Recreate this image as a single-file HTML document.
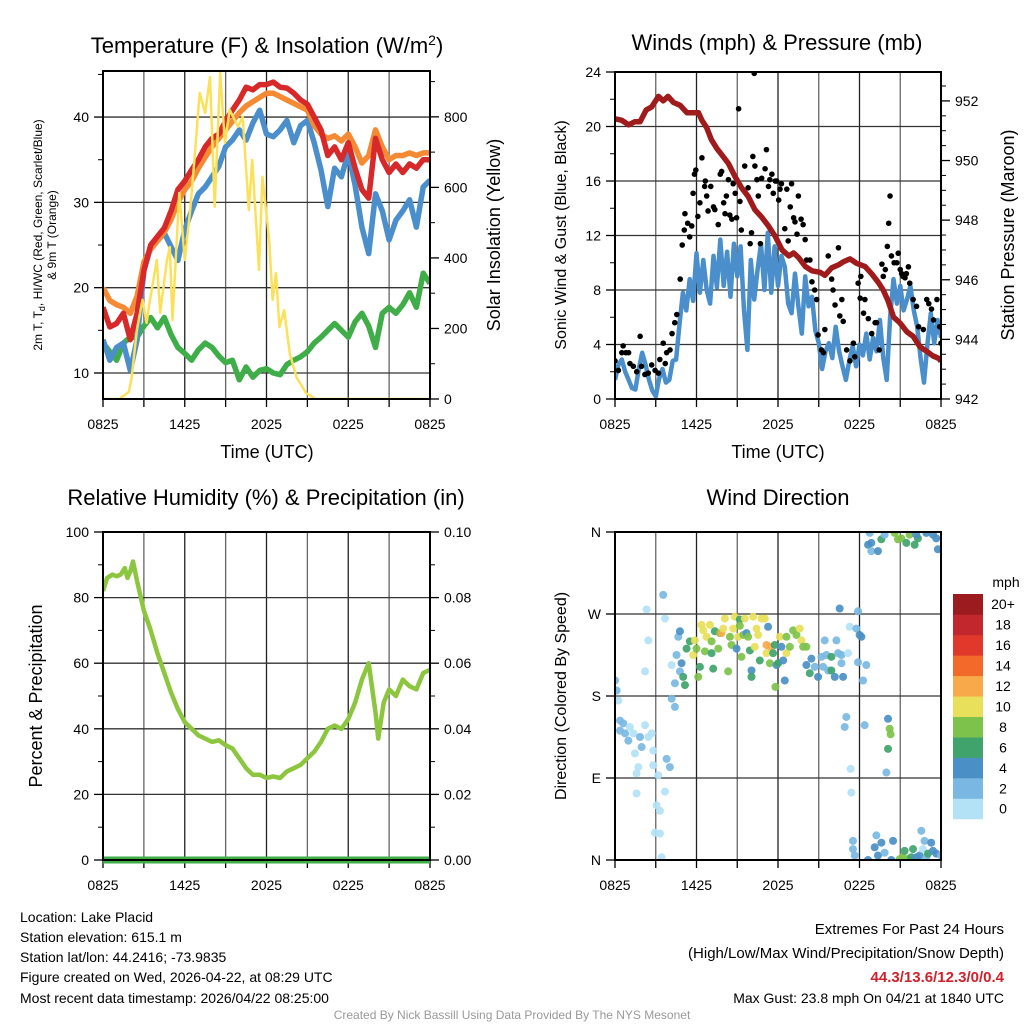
<!DOCTYPE html>
<html><head><meta charset="utf-8"><title>Mesonet Meteogram</title>
<style>
html,body{margin:0;padding:0;background:#fff;}
svg{display:block;font-family:"Liberation Sans",Arial,sans-serif;}
</style></head>
<body>
<svg id="chart" width="1024" height="1024" viewBox="0 0 1024 1024" xmlns="http://www.w3.org/2000/svg">
<rect x="0" y="0" width="1024" height="1024" fill="#fff"/>
<text x="267" y="53" font-size="22" text-anchor="middle">Temperature (F) &amp; Insolation (W/m<tspan dy="-8" font-size="14">2</tspan><tspan dy="8">)</tspan></text>
<text x="777" y="50" font-size="22" text-anchor="middle">Winds (mph) &amp; Pressure (mb)</text>
<text x="266" y="505" font-size="22" text-anchor="middle">Relative Humidity (%) &amp; Precipitation (in)</text>
<text x="778" y="505" font-size="22" text-anchor="middle">Wind Direction</text>
<text transform="translate(42,235) rotate(-90)" font-size="12" text-anchor="middle">2m T, T<tspan font-size="9" dy="3">d</tspan><tspan dy="-3">, HI/WC (Red, Green, Scarlet/Blue)</tspan></text>
<text transform="translate(56,235) rotate(-90)" font-size="12" text-anchor="middle">&amp; 9m T (Orange)</text>
<text transform="translate(500,235) rotate(-90)" font-size="18" text-anchor="middle">Solar Insolation (Yellow)</text>
<text x="267" y="458" font-size="18" text-anchor="middle">Time (UTC)</text>
<text transform="translate(566,235) rotate(-90)" font-size="16" text-anchor="middle">Sonic Wind &amp; Gust (Blue, Black)</text>
<text transform="translate(1014,235) rotate(-90)" font-size="18" text-anchor="middle">Station Pressure (Maroon)</text>
<text x="778" y="458" font-size="18" text-anchor="middle">Time (UTC)</text>
<text transform="translate(42,696) rotate(-90)" font-size="18" text-anchor="middle">Percent &amp; Precipitation</text>
<text transform="translate(566,696) rotate(-90)" font-size="16" text-anchor="middle">Direction (Colored By Speed)</text>
<g font-size="14">
<text x="20" y="922">Location: Lake Placid</text>
<text x="20" y="942">Station elevation: 615.1 m</text>
<text x="20" y="962">Station lat/lon: 44.2416; -73.9835</text>
<text x="20" y="982">Figure created on Wed, 2026-04-22, at 08:29 UTC</text>
<text x="20" y="1003">Most recent data timestamp: 2026/04/22 08:25:00</text>
</g>
<g font-size="15" text-anchor="end">
<text x="1004" y="934">Extremes For Past 24 Hours</text>
<text x="1004" y="958">(High/Low/Max Wind/Precipitation/Snow Depth)</text>
<text x="1004" y="982" font-weight="bold" fill="#d0202a">44.3/13.6/12.3/0/0.4</text>
<text x="1004" y="1003" font-size="14">Max Gust: 23.8 mph On 04/21 at 1840 UTC</text>
</g>
<text x="512" y="1019" font-size="12" fill="#999" text-anchor="middle">Created By Nick Bassill Using Data Provided By The NYS Mesonet</text>
</svg>
<script>
// ---------- DATA ----------
const timeLabels = ["0825","1425","2025","0225","0825"];
const halfHours = [0,0.5,1,1.5,2,2.5,3,3.5,4,4.5,5,5.5,6,6.5,7,7.5,8,8.5,9,9.5,10,10.5,11,11.5,12,12.5,13,13.5,14,14.5,15,15.5,16,16.5,17,17.5,18,18.5,19,19.5,20,20.5,21,21.5,22,22.5,23,23.5,24];
const tempRed = [17.7,15.4,15.8,17,13.9,17,22,25,26,27,29,31.5,32.5,33.8,35,36.5,37.5,38,39.5,40.8,42,43.5,43.2,43.8,43.8,44.1,43.5,43.4,42.8,42,41.5,40,38.5,35.5,36.5,35,37,34,31.5,30.5,37.5,35,33.5,34.5,33.5,34.5,34,35,35];
const temp9m = [20,18.5,18,17.7,17,19,23,24.5,25.5,26.5,28,30,31.5,32.5,34,35.3,36.5,37.5,38.5,39.5,40.5,41.3,41.8,42.3,42.8,42.8,42.4,42,41.6,41.2,40.8,39,38,37.5,37.8,37.2,38,36.5,34.6,35.5,38.5,36.5,35,35.5,35.5,35.8,35.5,35.8,35.8];
const windChill = [13.9,11.5,13,13.5,10.3,13.9,22,24.8,25.5,26.4,24.8,23.2,26.8,29,31,31.8,33,34.2,36.5,37.3,38.5,37.3,39.3,40.8,38,37.7,38.5,39.6,37,39,39.6,37,33.8,29.5,34,33,35.8,32,27.1,24,31,29,25.6,27.9,29,30.3,27.1,31.8,32.6];
const dewPoint = [13.5,12.5,11.5,13.5,14.2,14.2,15.5,16.5,15.3,16.5,14.5,13,12.3,11.5,12.7,13.5,13,12,11.2,11.5,9.2,10.7,9.5,10.3,10.5,10,9.8,11,11.5,11.9,12.5,13.5,14.2,15,15.8,15,14.2,16,17,15.5,13,17,17.7,17,18,19.4,17.7,21.7,20.5];
const solarHours = [0,1.2,1.9,2.1,2.5,2.9,3.2,3.45,3.95,4.2,4.7,4.9,5.1,5.6,6.0,6.4,6.75,7.1,7.5,7.85,8.2,8.6,8.95,9.3,9.55,9.9,10.25,10.7,10.95,11.45,11.7,12.2,12.45,12.7,12.95,13.3,13.7,14.2,14.9,15.6,24];
const solarValues = [0,0,20,60,200,281,216,281,394,244,394,431,224,584,394,536,698,868,811,913,545,925,726,820,800,772,800,536,678,366,630,451,281,357,204,252,130,62,17,0,0];

const windHours = [0,0.25,0.5,0.75,1,1.25,1.5,1.75,2,2.25,2.5,2.75,3,3.25,3.5,3.75,4,4.25,4.5,4.75,5,5.25,5.5,5.75,6,6.25,6.5,6.75,7,7.25,7.5,7.75,8,8.25,8.5,8.75,9,9.25,9.5,9.75,10,10.25,10.5,10.75,11,11.25,11.5,11.75,12,12.25,12.5,12.75,13,13.25,13.5,13.75,14,14.25,14.5,14.75,15,15.25,15.5,15.75,16,16.25,16.5,16.75,17,17.25,17.5,17.75,18,18.25,18.5,18.75,19,19.25,19.5,19.75,20,20.25,20.5,20.75,21,21.25,21.5,21.75,22,22.25,22.5,22.75,23,23.25,23.5,23.75,24];
const windSpeed = [1.4,2.5,2.9,2.0,1.4,0.8,0.7,2.2,3.4,2.5,1.4,0.6,0.2,1.5,2.2,1.2,1.4,2.8,2.9,5.5,7.8,6.5,8.8,7.2,10.7,7.8,10.2,8.0,7,10.5,8.2,11.7,8.3,10.8,7.5,11.4,9,11.2,6.5,3.6,10.2,7.3,9.5,11.4,8,12.2,7.8,11.2,8.3,10.5,9.7,7,6.3,9.2,6.8,4.8,9,6.8,7.5,5,4.1,2.2,3.5,4.1,3,5.3,3.5,2.4,1.4,2.8,3.9,2.4,4,3.2,4.8,2.9,4.5,3.5,5.8,3,1.4,6,8.8,7,8.3,6.5,7.3,8.3,6.5,5.3,3,1.2,4,6.3,4.1,5.8,4.5];
const gustHours = [0,0.25,0.5,0.6,0.8,1,1.1,1.35,1.6,1.85,1.95,2.2,2.45,2.7,2.95,3.2,3.3,3.55,3.7,3.8,4.05,4.2,4.4,4.55,4.8,4.95,5.1,5.15,5.35,5.5,5.65,5.75,5.85,5.95,6.1,6.25,6.4,6.6,6.65,6.75,6.85,7.05,7.25,7.35,7.6,7.75,7.85,8,8.1,8.2,8.35,8.45,8.6,8.7,8.85,8.95,9.1,9.2,9.3,9.55,9.8,9.95,10.05,10.15,10.25,10.3,10.45,10.55,10.7,10.8,11.05,11.15,11.3,11.4,11.55,11.65,11.8,11.9,12.05,12.15,12.25,12.5,12.65,12.75,12.9,13,13.15,13.25,13.4,13.5,13.7,13.85,14,14.1,14.35,14.5,14.7,14.85,14.95,15.2,15.35,15.45,15.7,15.95,16.05,16.2,16.45,16.55,16.7,16.8,17.05,17.3,17.55,17.65,17.9,18.05,18.1,18.3,18.4,18.65,18.9,19.15,19.25,19.45,19.65,19.75,19.9,20.05,20.15,20.25,20.35,20.55,20.75,20.85,21,21.1,21.2,21.35,21.45,21.6,21.7,21.95,22.2,22.35,22.7,22.95,23.1,23.3,23.45,23.7,23.9,24];
const gustSpeed = [2.8,2.1,3.4,3.9,3.4,3.4,2.6,2.4,2.0,4.6,2.4,1.8,1.9,2.5,2.1,1.9,2.9,4.1,2.6,3.4,3.6,4.8,5.6,6.2,8.8,11.3,12.4,13.6,12.9,11.9,12.7,15.1,16.5,16.8,13.4,14.4,17.7,15.6,16,14.9,13.8,15.6,14.1,13.9,12.8,16.5,16.7,14.4,13.6,14.9,16.1,13.5,13.2,15.8,15.1,13.3,21.3,14.5,12.4,17.1,15.5,11.4,12.2,17.8,23.9,17.1,16.1,14.9,11.4,16.2,16.9,18.3,15.6,16.1,16.5,15.1,16,16,14.6,15.4,15.8,12.5,15.4,11.6,14.1,15.8,13.3,13,12.1,14.9,13.2,12.8,11.7,10.2,10.2,8.6,8,7.3,4.7,3.6,3.4,5.1,10.5,8.8,8,6.9,11.1,6.1,7.3,5.7,3.6,2.8,4.1,3.1,8.5,7.4,9,6.3,7.3,5.9,4.8,5.6,5.6,3.6,9.9,9,9.5,11.2,12.9,14.9,10.5,10,10,10.7,9.5,9.2,9,8.9,9.2,9.7,8.5,7.3,6.8,5.3,5.1,7.3,7,6.6,5.8,7.3,5.3,4.1];
const pressHours = [0,0.5,1,1.45,1.85,2.3,2.7,3.2,3.55,3.9,4.3,4.8,5.3,5.8,6.15,6.4,6.75,7.1,7.5,7.85,8.35,8.85,9.3,9.8,10.3,10.8,11.3,11.8,12.3,12.8,13.15,13.5,14,14.5,15.1,15.45,15.95,16.45,16.8,17.3,17.8,18.4,18.9,19.4,19.75,20.1,20.5,20.985,21.5,21.95,22.45,22.95,23.4,23.9,24];
const pressValues = [951.4,951.35,951.2,951.3,951.3,951.7,951.8,952.15,952,952.15,951.95,951.85,951.6,951.6,951.6,951.35,951.1,950.7,950.4,950.2,949.9,949.45,949.1,948.8,948.35,948.1,947.8,947.45,947,946.8,946.9,946.75,946.45,946.3,946.25,946.15,946.4,946.5,946.6,946.7,946.55,946.45,946.2,945.9,945.65,945.3,944.75,944.55,944.25,944.1,943.75,943.6,943.45,943.35,943.25];

const rhHours = [0,0.3,0.7,1,1.3,1.6,1.8,2.0,2.2,2.5,3,3.5,4,4.5,5,5.5,6,6.5,7,7.5,8,8.5,9,9.5,10,10.5,11,11.5,12,12.5,13,13.5,14,14.5,15,15.5,16,16.5,17,17.5,18,18.5,19,19.5,20,20.2,20.6,21,21.5,22,22.5,23,23.5,24];
const rhValues = [82,86,87,86.5,87,89,86,88,91,85,76,70,63,57,51,46,42,40,38,37,36,36.5,35,34,31,28,26,26,25,25.5,25,27,28,29,31,33,36,40,41,40,43,48,55,60,45,37,48,52,50,55,53,52,57,58];
const precipValues = [0,0,0,0,0,0,0,0,0,0,0,0,0,0,0,0,0,0,0,0,0,0,0,0,0];

const dirHours = [0,0.12,0.25,0.37,0.61,0.37,0.74,0.98,1.1,1.35,1.47,1.72,1.59,1.84,1.96,2.21,2.45,2.7,2.82,2.21,2.45,2.33,3.55,3.68,1.59,2.82,3.19,3.8,4.04,3.68,3.06,3.31,2.94,3.31,3.43,4.17,4.41,4.53,4.41,4.17,4.66,4.78,4.9,4.78,5.02,5.15,5.27,5.51,5.76,5.88,6.0,6.13,6.25,6.37,6.5,6.74,6.62,6.99,7.11,7.23,7.11,7.35,7.6,7.72,7.84,7.97,8.09,8.33,8.46,8.58,8.7,8.82,8.95,9.07,9.19,9.19,9.31,9.44,9.56,9.68,9.8,9.93,10.05,10.05,10.17,10.29,10.42,10.54,10.66,10.78,11.03,11.15,11.27,11.4,11.15,11.4,11.64,11.76,11.89,12.01,12.13,12.25,12.38,12.5,11.81,12.62,12.62,12.87,13.11,13.36,13.6,13.73,13.85,14.09,14.09,14.34,14.46,14.71,14.95,15.2,15.32,15.44,15.56,15.69,15.93,15.93,16.18,16.3,16.42,16.54,16.67,16.79,16.67,17.16,17.28,17.77,17.89,18.01,18.14,17.89,18.26,18.5,17.03,16.91,17.35,17.4,18.38,20.1,20.22,20.29,20.1,19.98,18.75,18.63,18.87,18.87,19.36,19.61,19.85,20.59,20.83,21.08,21.45,21.69,22.06,22.3,22.18,22.92,23.41,23.65,23.77,17.52,17.52,17.65,18.63,19.12,19.24,19.36,19.61,19.85,20.34,20.47,20.96,21.2,21.32,21.57,21.81,21.94,22.18,22.43,22.55,22.67,22.79,22.92,23.04,23.28,23.41,23.65,24];
const dirDegrees = [197,186,175,153,150,142,139,131,146,139,117,102,95,135,124,148,135,139,120,207,241,275,291,265,73,104,93,111,102,75,60,54,30,29,3,177,168,225,194,214,245,251,216,207,201,192,232,240,225,241,232,201,212,258,252,245,229,258,240,210,227,251,232,249,249,254,265,207,245,236,254,267,232,245,264,257,223,247,265,249,245,230,208,201,267,234,254,247,219,265,265,236,256,234,227,216,227,236,214,216,245,234,219,197,190,227,245,234,252,247,254,241,234,234,214,205,221,212,201,223,212,241,225,208,223,208,201,241,227,276,216,201,225,227,256,254,273,247,245,217,197,214,157,146,100,74,148,155,144,138,122,96,359,346,348,339,339,352,357,359,352,353,348,357,346,353,357,359,357,353,341,21,12,5,0,14,27,5,19,8,0,21,1,3,10,1,3,12,3,5,32,12,21,3,7,19,10,7,5];
const dirSpeeds = [3,3,1,3,3,3,3,3,1,1,1,1,1,3,3,1,1,1,1,1,1,1,3,1,1,1,1,3,3,1,1,1,1,1,1,3,3,3,3,1,3,5,5,3,7,7,7,7,11,11,9,9,7,11,11,11,9,11,9,7,7,7,9,9,13,11,11,9,9,9,11,11,5,11,7,9,9,9,11,5,9,7,5,7,11,11,11,11,7,11,11,13,5,13,11,9,7,7,5,7,11,5,5,5,9,11,9,9,9,9,11,11,9,9,5,7,5,3,5,3,3,3,3,3,7,7,5,3,3,5,3,5,3,1,1,3,3,5,5,3,3,3,3,3,1,1,3,5,9,9,7,3,3,5,5,3,5,7,3,9,9,9,7,9,7,7,5,5,5,5,5,3,3,3,5,5,3,5,5,3,5,5,9,9,7,9,7,7,5,5,3,1,3,3,7,5,5,5,3];
const speedBins = ["0","2","4","6","8","10","12","14","16","18","20+"];
const speedColors = ["#b3e2f7","#7ab8e3","#4a90c6","#3fa36b","#7dc24a","#e8e05a","#f8aa4b","#f26a2a","#e0392b","#c1272d","#9b1b1e"];

// ---------- DRAW ----------
const NS = "http://www.w3.org/2000/svg";
const svg = document.getElementById("chart");
function mk(tag, attrs, parent) {
  const e = document.createElementNS(NS, tag);
  for (const k in attrs) e.setAttribute(k, attrs[k]);
  (parent || svg).appendChild(e);
  return e;
}
const P1 = {x0:103, x1:430, y0:71, y1:399};
const P2 = {x0:615, x1:941, y0:72, y1:399};
const P3 = {x0:103, x1:430, y0:532, y1:860};
const P4 = {x0:615, x1:941, y0:532, y1:860};
function xS(P, t) { return P.x0 + t / 24 * (P.x1 - P.x0); }
function yS(P, v, lo, hi) { return P.y1 - (v - lo) / (hi - lo) * (P.y1 - P.y0); }
const T_LO = 6.95, T_HI = 45.4, S_LO = 0, S_HI = 930;
const W_LO = 0, W_HI = 24, PR_LO = 942, PR_HI = 952.97;

function frame(P, name, hLines, lo, hi) {
  const g = mk("g", {});
  
  
  for (let h = 3; h < 24; h += 3) {
    const x = xS(P, h);
    const l = mk("line", {x1:x, x2:x, y1:P.y0, y2:P.y1, stroke: (h % 6 === 0) ? "#222" : "#666", "stroke-width":1.3}, g);
    
    
  }
  hLines.forEach(v => {
    const y = yS(P, v, lo, hi);
    const l = mk("line", {x1:P.x0, x2:P.x1, y1:y, y2:y, stroke:"#333", "stroke-width":1.3}, g);
    
    
  });
  for (let h = 0; h <= 24; h += 3) {
    const x = xS(P, h);
    const t = mk("line", {x1:x, x2:x, y1:P.y1, y2:P.y1 + 8, stroke:"#000", "stroke-width":1.3}, g);
    
    
  }
  timeLabels.forEach((lab, i) => {
    const tx = mk("text", {x:xS(P, i * 6), y:P.y1 + 30, "font-size":14, "text-anchor":"middle"}, g);
    tx.textContent = lab;
    
    
  });
}
function border(P, name) {
  const r = mk("rect", {x:P.x0, y:P.y0, width:P.x1 - P.x0, height:P.y1 - P.y0, fill:"none", stroke:"#000", "stroke-width":2});
  
  
}
function yAxis(P, name, side, majors, labels, minors, lo, hi) {
  const g = mk("g", {});
  
  
  const x = side === "left" ? P.x0 : P.x1;
  const d = side === "left" ? -1 : 1;
  majors.forEach((v, i) => {
    const y = yS(P, v, lo, hi);
    const t = mk("line", {x1:x, x2:x + d * 9, y1:y, y2:y, stroke:"#000", "stroke-width":1.3}, g);
    
    
    const tx = mk("text", {x:x + d * 14, y:y + 5, "font-size":14, "text-anchor": side === "left" ? "end" : "start"}, g);
    tx.textContent = labels[i];
    
    
  });
  minors.forEach(v => {
    const y = yS(P, v, lo, hi);
    const t = mk("line", {x1:x, x2:x + d * 5, y1:y, y2:y, stroke:"#000", "stroke-width":1}, g);
    
    
  });
}
function linePath(P, hours, vals, lo, hi) {
  return hours.map((h, i) => (i ? "L" : "M") + xS(P, h).toFixed(1) + "," + yS(P, vals[i], lo, hi).toFixed(1)).join("");
}
function clip(P, id) {
  const cp = mk("clipPath", {id:id});
  mk("rect", {x:P.x0, y:P.y0, width:P.x1 - P.x0, height:P.y1 - P.y0}, cp);
}
clip(P1, "c1"); clip(P2, "c2"); clip(P3, "c3"); clip(P4, "c4");

// Panel 1
frame(P1, "temp", [10,20,30,40], T_LO, T_HI);
const tempSeries = [[dewPoint,"#3fae49","dewpoint-line"],[windChill,"#4a8fcb","wind-chill-line"],[temp9m,"#f58a34","temp-9m-line"],[tempRed,"#d7282a","temp-2m-line"]];
tempSeries.forEach(s => {
  const p = mk("path", {d:linePath(P1, halfHours, s[0], T_LO, T_HI), fill:"none", stroke:s[1], "stroke-width":5.5, "stroke-linejoin":"round", "clip-path":"url(#c1)"});
  
  
});
const solar = mk("path", {d:linePath(P1, solarHours, solarValues, S_LO, S_HI), fill:"none", stroke:"#fbe15a", "stroke-width":2.5, "stroke-linejoin":"round", "clip-path":"url(#c1)"});


border(P1, "temp");
yAxis(P1, "temp-y-axis", "left", [10,20,30,40], ["10","20","30","40"], [15,25,35,45], T_LO, T_HI);
yAxis(P1, "solar-y-axis", "right", [0,200,400,600,800], ["0","200","400","600","800"], [100,300,500,700,900], S_LO, S_HI);

// Panel 2
frame(P2, "wind", [4,8,12,16,20], W_LO, W_HI);
const wl = mk("path", {d:linePath(P2, windHours, windSpeed, W_LO, W_HI), fill:"none", stroke:"#4a8fcb", "stroke-width":4.5, "stroke-linejoin":"round", "clip-path":"url(#c2)"});


const gg = mk("g", {"clip-path":"url(#c2)"});


gustHours.forEach((h, i) => {
  const c = mk("circle", {cx:xS(P2, h), cy:yS(P2, gustSpeed[i], W_LO, W_HI), r:2.8, fill:"#000"}, gg);
  
  
});
const pl = mk("path", {d:linePath(P2, pressHours, pressValues, PR_LO, PR_HI), fill:"none", stroke:"#a01b1b", "stroke-width":5.5, "stroke-linejoin":"round", "clip-path":"url(#c2)"});


border(P2, "wind");
yAxis(P2, "wind-y-axis", "left", [0,4,8,12,16,20,24], ["0","4","8","12","16","20","24"], [2,6,10,14,18,22], W_LO, W_HI);
yAxis(P2, "pressure-y-axis", "right", [942,944,946,948,950,952], ["942","944","946","948","950","952"], [942.5,943,943.5,944.5,945,945.5,946.5,947,947.5,948.5,949,949.5,950.5,951,951.5,952.5], PR_LO, PR_HI);

// Panel 3
frame(P3, "rh", [20,40,60,80], 0, 100);
const rl = mk("path", {d:linePath(P3, rhHours, rhValues, 0, 100), fill:"none", stroke:"#8cc63f", "stroke-width":4.5, "stroke-linejoin":"round", "clip-path":"url(#c3)"});


const precipHours = precipValues.map((v, i) => i);
const prl = mk("path", {d:linePath(P3, precipHours, precipValues, 0, 0.1), fill:"none", stroke:"#3fae49", "stroke-width":7});


border(P3, "rh");
yAxis(P3, "rh-y-axis", "left", [0,20,40,60,80,100], ["0","20","40","60","80","100"], [10,30,50,70,90], 0, 100);
yAxis(P3, "precip-y-axis", "right", [0,0.02,0.04,0.06,0.08,0.1], ["0.00","0.02","0.04","0.06","0.08","0.10"], [0.01,0.03,0.05,0.07,0.09], 0, 0.1);

// Panel 4
frame(P4, "direction", [90,180,270], 0, 360);
const dg = mk("g", {"clip-path":"url(#c4)"});


dirHours.forEach((h, i) => {
  const bin = Math.min(10, Math.floor(dirSpeeds[i] / 2));
  const c = mk("circle", {cx:xS(P4, h), cy:yS(P4, dirDegrees[i], 0, 360), r:4, fill:speedColors[bin], "fill-opacity":0.92}, dg);
  
  
});
border(P4, "direction");
yAxis(P4, "direction-y-axis", "left", [0,90,180,270,360], ["N","E","S","W","N"], [], 0, 360);

// colorbar
const cb = mk("g", {});


const cbTop = 594, cbH = 20.45;
speedBins.forEach((lab, i) => {
  const y = cbTop + (speedBins.length - 1 - i) * cbH;
  const r = mk("rect", {x:953, y:y, width:30, height:cbH + 0.3, fill:speedColors[i]}, cb);
  
  
  const t = mk("text", {x:1003, y:y + cbH / 2 + 5, "font-size":14, "text-anchor":"middle"}, cb);
  t.textContent = lab;
  
  
});
const cbt = mk("text", {x:1006, y:587, "font-size":14, "text-anchor":"middle"}, cb);
cbt.textContent = "mph";


</script>
</body></html>
